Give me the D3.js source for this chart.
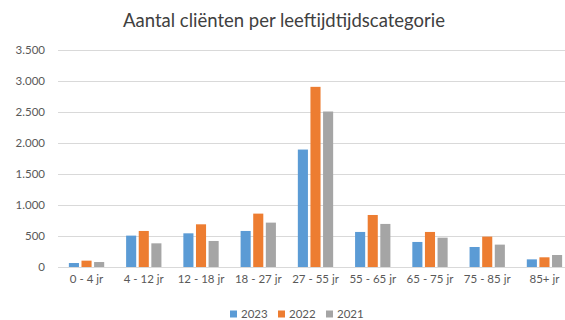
<!DOCTYPE html>
<html>
<head>
<meta charset="utf-8">
<script src="https://cdn.jsdelivr.net/npm/d3@7"></script>
<style>
  html, body { margin: 0; padding: 0; background: #fff; }
  svg { display: block; font-family: Lato, "Open Sans", sans-serif; }
</style>
</head>
<body>
<svg id="chart" width="565" height="320"></svg>
<script>
// Age categories and client counts per year
const categories = ["0 - 4 jr", "4 - 12 jr", "12 - 18 jr", "18 - 27 jr", "27 - 55 jr", "55 - 65 jr", "65 - 75 jr", "75 - 85 jr", "85+ jr"];
const years = ["2023", "2022", "2021"];
const values2023 = [64, 505, 542, 580, 1890, 564, 403, 322, 123];
const values2022 = [102, 580, 687, 859, 2899, 837, 564, 489, 156];
const values2021 = [80, 381, 419, 714, 2502, 693, 472, 360, 193];
const yTicks = [0, 500, 1000, 1500, 2000, 2500, 3000, 3500];
const colors = ["#5b9bd5", "#ed7d31", "#a5a5a5"];

const series = [values2023, values2022, values2021];
const svg = d3.select("#chart");

const plotLeft = 58, plotRight = 573, plotTop = 49.5, plotBottom = 267;

const x = d3.scaleBand().domain(categories).range([plotLeft, plotRight]).paddingInner(0.383).paddingOuter(0.19);
const xs = d3.scaleBand().domain(years).range([0, x.bandwidth()]).paddingInner(0.2);
const y = d3.scaleLinear().domain([0, 3500]).range([plotBottom, plotTop]);

const fmt = d3.formatLocale({ decimal: ",", thousands: ".", grouping: [3], currency: ["€", ""] }).format(",d");

// Horizontal gridlines
svg.append("g")
  .selectAll("line")
  .data(yTicks)
  .join("line")
  .attr("x1", plotLeft).attr("x2", plotRight)
  .attr("y1", d => Math.round(y(d)) + 0.5)
  .attr("y2", d => Math.round(y(d)) + 0.5)
  .attr("stroke", "#d9d9d9").attr("stroke-width", 1);

// Y axis labels
const yAxis = d3.axisLeft(y).tickValues(yTicks).tickFormat(fmt).tickSize(0).tickPadding(0);
const gy = svg.append("g").attr("transform", "translate(45,0)").call(yAxis);
gy.select(".domain").remove();
gy.selectAll("text").attr("fill", "#595959").style("font-size", "11.5px").style("font-family", "Lato, 'Open Sans', sans-serif");

// Bars
const groups = svg.append("g")
  .selectAll("g")
  .data(categories)
  .join("g")
  .attr("transform", d => `translate(${x(d)},0)`);

groups.selectAll("rect")
  .data((c, i) => years.map((yr, k) => ({ yr, v: series[k][i], k })))
  .join("rect")
  .attr("x", d => xs(d.yr))
  .attr("y", d => y(d.v))
  .attr("width", xs.bandwidth())
  .attr("height", d => y(0) - y(d.v))
  .attr("fill", d => colors[d.k]);

// X axis labels
const xAxis = d3.axisBottom(x).tickSize(0).tickPadding(0);
const gx = svg.append("g").attr("transform", `translate(0,${plotBottom + 8})`).call(xAxis);
gx.select(".domain").remove();
gx.selectAll("text").attr("fill", "#595959").attr("dy", "0.71em").style("font-size", "11.5px").style("font-family", "Lato, 'Open Sans', sans-serif");

// Title
svg.append("text")
  .attr("x", 284).attr("y", 27)
  .attr("text-anchor", "middle")
  .attr("fill", "#404040")
  .style("font-size", "19.5px")
  .attr("textLength", 322)
  .attr("lengthAdjust", "spacingAndGlyphs")
  .text("Aantal cliënten per leeftijdtijdscategorie");

// Legend
const legendX = [230, 278, 326];
const legend = svg.append("g")
  .selectAll("g")
  .data(years)
  .join("g")
  .attr("transform", (d, i) => `translate(${legendX[i]},310.5)`);
legend.append("rect").attr("width", 7).attr("height", 7).attr("fill", (d, i) => colors[i]);
legend.append("text")
  .attr("x", 11).attr("y", 7.5)
  .attr("fill", "#595959")
  .style("font-size", "11.5px")
  .text(d => d);
</script>
</body>
</html>
